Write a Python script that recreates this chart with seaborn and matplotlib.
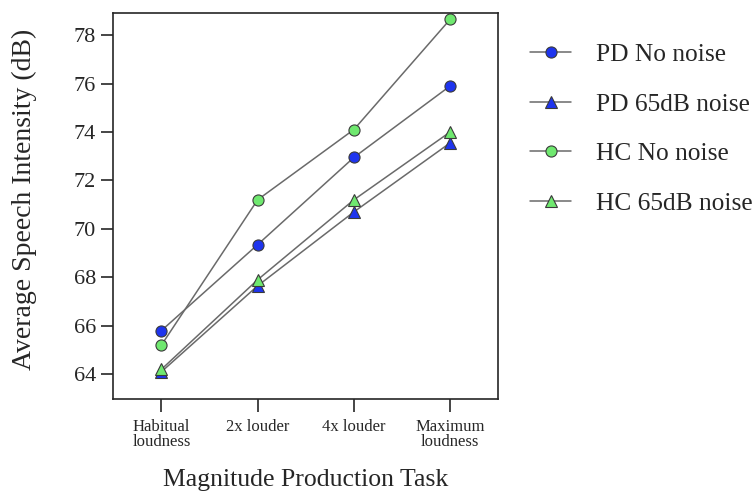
import pandas as pd
import matplotlib.pyplot as plt
import seaborn as sns

# data
tasks = ["Habitual\nloudness", "2x louder", "4x louder", "Maximum\nloudness"]
pd_no_noise = [65.8, 69.35, 72.95, 75.9]
pd_65db_noise = [64.1, 67.65, 70.7, 73.55]
hc_no_noise = [65.2, 71.2, 74.1, 78.65]
hc_65db_noise = [64.2, 67.9, 71.2, 74.0]

series = [
    ("PD No noise", pd_no_noise, "o", "#1e34ee"),
    ("PD 65dB noise", pd_65db_noise, "^", "#1e34ee"),
    ("HC No noise", hc_no_noise, "o", "#6fe86f"),
    ("HC 65dB noise", hc_65db_noise, "^", "#6fe86f"),
]

sns.set_style("ticks")
plt.rcParams["font.family"] = ["Liberation Serif", "DejaVu Serif"]
plt.rcParams["axes.linewidth"] = 1.2

fig = plt.figure(figsize=(7.55, 4.91), dpi=100)
ax = fig.add_axes([0.150, 0.187, 0.510, 0.787])

for name, vals, marker, color in series:
    df = pd.DataFrame({"task": range(len(tasks)), "dB": vals})
    sns.lineplot(data=df, x="task", y="dB", ax=ax, color="#6a6a6a", linewidth=1.1,
                 marker=marker, markersize=9 if marker == "^" else 8,
                 markerfacecolor=color, markeredgecolor="#3a3a3a",
                 markeredgewidth=0.8, label=name, legend=False)

ax.set_xlim(-0.5, 3.5)
ax.set_ylim(62.97, 78.92)
ax.set_xticks(range(len(tasks)))
ax.set_xticklabels(tasks, fontsize=12, linespacing=0.95)
ax.set_yticks([64, 66, 68, 70, 72, 74, 76, 78])
ax.tick_params(axis="y", labelsize=16, length=9, width=1.2, direction="out")
ax.tick_params(axis="x", length=9, width=1.2, direction="out", pad=5)
for side in ["top", "right"]:
    ax.spines[side].set_visible(True)

ax.set_xlabel("Magnitude Production Task", fontsize=18.5, labelpad=14)
ax.set_ylabel("Average Speech Intensity (dB)", fontsize=20)
ax.yaxis.set_label_coords(-0.197, 0.517)

handles, labels = ax.get_legend_handles_labels()
fig.legend(handles, labels, loc="upper left", bbox_to_anchor=(0.672, 0.958),
           frameon=False, fontsize=18.3, handlelength=1.6, handletextpad=1.0,
           labelspacing=1.05)

fig.savefig("out.png", dpi=100)
